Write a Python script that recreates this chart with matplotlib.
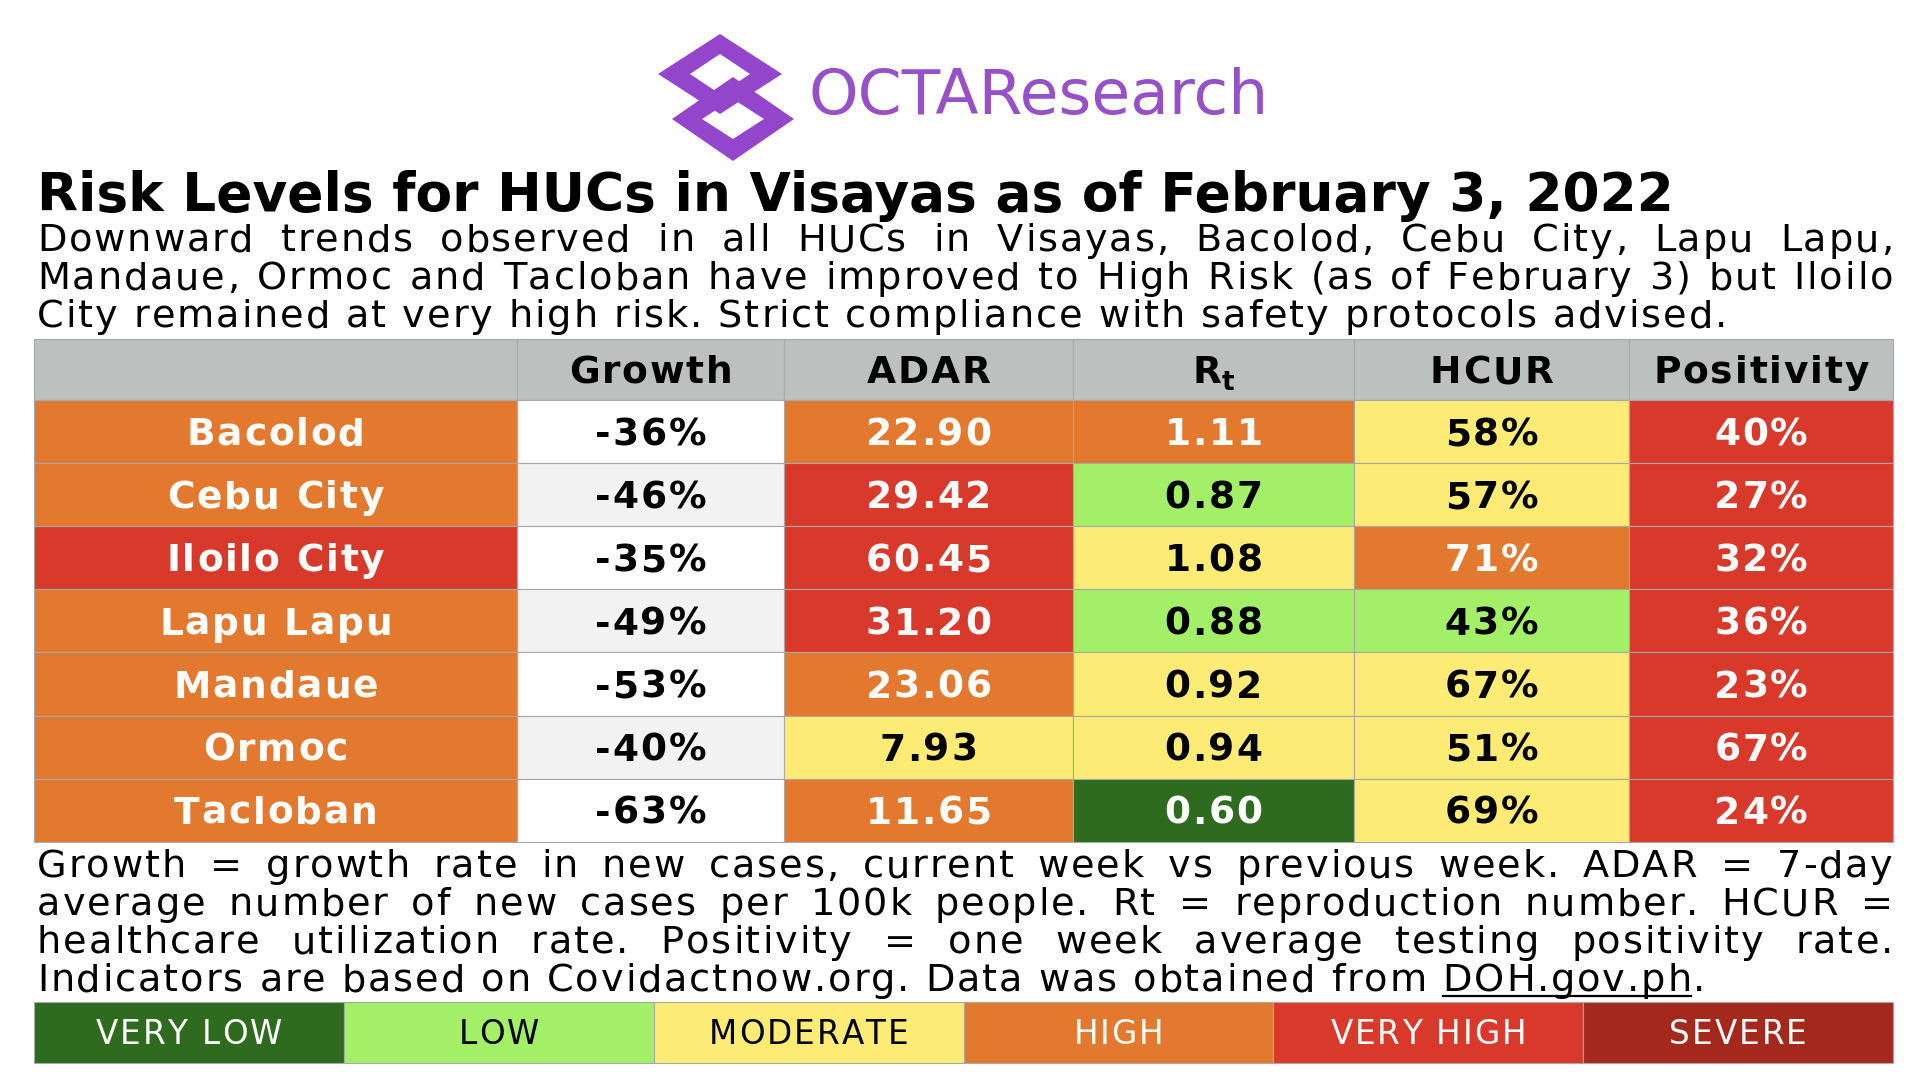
import matplotlib
matplotlib.use("Agg")
import matplotlib.pyplot as plt
from matplotlib.patches import Rectangle, PathPatch
from matplotlib.path import Path
from matplotlib.font_manager import FontProperties, findfont, get_font

# ======================================================
# DATA
# ======================================================

CITIES = ["Bacolod", "Cebu City", "Iloilo City", "Lapu Lapu",
          "Mandaue", "Ormoc", "Tacloban"]
GROWTH = [-36, -46, -35, -49, -53, -40, -63]
ADAR = [22.90, 29.42, 60.45, 31.20, 23.06, 7.93, 11.65]
RT = [1.11, 0.87, 1.08, 0.88, 0.92, 0.94, 0.60]
HCUR = [58, 57, 71, 43, 67, 51, 69]
POSITIVITY = [40, 27, 32, 36, 23, 67, 24]

# risk level index per cell (0 = very low ... 5 = severe)
CITY_RISK = [3, 3, 4, 3, 3, 3, 3]
ADAR_RISK = [3, 4, 4, 4, 3, 2, 3]
RT_RISK = [3, 1, 2, 1, 2, 2, 0]
HCUR_RISK = [2, 2, 3, 1, 2, 2, 2]
POS_RISK = [4, 4, 4, 4, 4, 4, 4]

HEADERS = ["", "Growth", "ADAR", "Rt", "HCUR", "Positivity"]
LEVELS = ["VERY LOW", "LOW", "MODERATE", "HIGH", "VERY HIGH", "SEVERE"]
LEVEL_COLORS = ["#2E6B1F", "#A3F068", "#FCEC76", "#E2792F", "#D9392A", "#A5281C"]
LEVEL_TEXT = ["white", "black", "black", "white", "white", "white"]

TITLE = "Risk Levels for HUCs in Visayas as of February 3, 2022"
SUBTITLE = [
    "Downward trends observed in all HUCs in Visayas, Bacolod, Cebu City, Lapu Lapu,",
    "Mandaue, Ormoc and Tacloban have improved to High Risk (as of February 3) but Iloilo",
    "City remained at very high risk. Strict compliance with safety protocols advised.",
]
NOTES = [
    "Growth = growth rate in new cases, current week vs previous week. ADAR = 7-day",
    "average number of new cases per 100k people. Rt = reproduction number. HCUR =",
    "healthcare utilization rate. Positivity = one week average testing positivity rate.",
    "Indicators are based on Covidactnow.org. Data was obtained from DOH.gov.ph.",
]

# ======================================================
# LAYOUT (pixels)
# ======================================================

COL_EDGES = [34, 517, 784, 1073, 1354, 1629, 1893]
HEAD_TOP, HEAD_BOT = 339, 400
ROW_H = 63.1
TEXT_X0, TEXT_X1 = 37, 1893
PURPLE = "#9345CC"
DPI = 100
CAP = 0.729  # DejaVu Sans cap height / em

plt.rcParams["font.family"] = "DejaVu Sans"

fig = plt.figure(figsize=(19.2, 10.8), dpi=DPI)
ax = fig.add_axes([0, 0, 1, 1])
ax.set_xlim(0, 1920)
ax.set_ylim(1080, 0)
ax.axis("off")
renderer = fig.canvas.get_renderer()

_fonts = {}


def advances(s, fs, weight):
    if weight not in _fonts:
        _fonts[weight] = get_font(findfont(FontProperties(family="DejaVu Sans", weight=weight)))
    f = _fonts[weight]
    f.set_size(fs, DPI)
    return [f.load_char(ord(c)).linearHoriAdvance / 65536 for c in s]


def tracked_width(s, fs, track, weight="normal"):
    return sum(advances(s, fs, weight)) + track * (len(s) - 1)


def tracked(x, y, s, fs, track, weight="normal", color="black", ha="left"):
    """draw s char by char with extra spacing, y is the baseline"""
    adv = advances(s, fs, weight)
    total = sum(adv) + track * (len(s) - 1)
    if ha == "center":
        x = x - total / 2
    for c, a in zip(s, adv):
        if c != " ":
            ax.text(x, y, c, fontsize=fs, fontweight=weight, color=color,
                    ha="left", va="baseline")
        x += a + track
    return total


def body_line(y, line, fs, track, justify):
    words = line.split()
    widths = [tracked_width(w, fs, track) for w in words]
    if justify:
        gap = (TEXT_X1 - TEXT_X0 - sum(widths)) / (len(words) - 1)
    else:
        gap = advances(" ", fs, "normal")[0] + 2 * track
    x = TEXT_X0
    pos = []
    for w, wd in zip(words, widths):
        tracked(x, y, w, fs, track)
        pos.append((x, wd))
        x += wd + gap
    return words, pos


# ======================================================
# LOGO
# ======================================================

def diamond(cx, cy, hw, hh, ihw, ihh):
    outer = [(cx, cy - hh), (cx + hw, cy), (cx, cy + hh), (cx - hw, cy), (cx, cy - hh)]
    inner = [(cx, cy - ihh), (cx - ihw, cy), (cx, cy + ihh), (cx + ihw, cy), (cx, cy - ihh)]
    codes = [Path.MOVETO] + [Path.LINETO] * 3 + [Path.CLOSEPOLY]
    return Path(outer + inner, codes + codes)


ax.add_patch(PathPatch(diamond(720, 74, 62, 40, 30, 20), facecolor=PURPLE, edgecolor="none"))
ax.add_patch(PathPatch(diamond(733, 119, 61, 42, 31, 20), facecolor=PURPLE, edgecolor="none"))

logo = ax.text(808, 97, "OCTAResearch", fontsize=10, color="#9650C8",
               va="center", ha="left")
logo.set_fontsize(10 * 460 / logo.get_window_extent(renderer).width)

# ======================================================
# TITLE + SUBTITLE
# ======================================================

title = ax.text(TEXT_X0, 211, TITLE, fontsize=10, fontweight="bold", va="baseline")
title.set_fontsize(10 * 1640 / title.get_window_extent(renderer).width)

BODY_FS = 27.5
# letter spacing so that the last subtitle line ends where the reference does
last = SUBTITLE[-1]
BODY_TRACK = (1690 - sum(advances(last, BODY_FS, "normal"))) / (len(last) - 1)

for i, line in enumerate(SUBTITLE):
    body_line(251 + 38 * i, line, BODY_FS, BODY_TRACK, justify=(i < len(SUBTITLE) - 1))

# ======================================================
# TABLE
# ======================================================

EDGE = "#A8A8A8"
TABLE_FS = 27
TABLE_TRACK = 1.8
cap_off = CAP * TABLE_FS * DPI / 72 / 2

for j in range(len(HEADERS)):
    x0, x1 = COL_EDGES[j], COL_EDGES[j + 1]
    ax.add_patch(Rectangle((x0, HEAD_TOP), x1 - x0, HEAD_BOT - HEAD_TOP,
                           facecolor="#BEC0C0", edgecolor=EDGE, lw=0.8))
    cx, base = (x0 + x1) / 2, (HEAD_TOP + HEAD_BOT) / 2 + cap_off
    if HEADERS[j] == "Rt":
        big = tracked_width("R", TABLE_FS, 0, "bold")
        small = tracked_width("t", TABLE_FS * 0.7, 0, "bold")
        left = cx - (big + small) / 2
        tracked(left, base, "R", TABLE_FS, 0, weight="bold")
        tracked(left + big, base + 7, "t", TABLE_FS * 0.7, 0, weight="bold")
    elif HEADERS[j]:
        tracked(cx, base, HEADERS[j], TABLE_FS, TABLE_TRACK, weight="bold", ha="center")

columns = [
    (CITIES, CITY_RISK),
    ([f"{g}%" for g in GROWTH], None),
    ([f"{v:.2f}" for v in ADAR], ADAR_RISK),
    ([f"{v:.2f}" for v in RT], RT_RISK),
    ([f"{v}%" for v in HCUR], HCUR_RISK),
    ([f"{v}%" for v in POSITIVITY], POS_RISK),
]

for j, (labels, risk) in enumerate(columns):
    x0, x1 = COL_EDGES[j], COL_EDGES[j + 1]
    for i, lab in enumerate(labels):
        y0 = HEAD_BOT + i * ROW_H
        if risk is None:
            fc = "white" if i % 2 == 0 else "#F2F2F2"
            tc = "black"
        else:
            fc = LEVEL_COLORS[risk[i]]
            tc = LEVEL_TEXT[risk[i]]
        ax.add_patch(Rectangle((x0, y0), x1 - x0, ROW_H,
                               facecolor=fc, edgecolor=EDGE, lw=0.8))
        tracked((x0 + x1) / 2, y0 + ROW_H / 2 + cap_off, lab, TABLE_FS, TABLE_TRACK,
                weight="bold", color=tc, ha="center")

# ======================================================
# NOTES
# ======================================================

for i, line in enumerate(NOTES):
    y = 877 + 38 * i
    words, pos = body_line(y, line, BODY_FS, BODY_TRACK, justify=(i < len(NOTES) - 1))
    for w, (x, wd) in zip(words, pos):
        if w.startswith("DOH"):
            uw = tracked_width(w.rstrip("."), BODY_FS, BODY_TRACK)
            ax.plot([x, x + uw], [y + 5] * 2, color="black", lw=1.6)

# ======================================================
# LEGEND BAR
# ======================================================

LEG_TOP, LEG_BOT = 1002, 1063
LEG_FS = 23.5
seg = (COL_EDGES[-1] - COL_EDGES[0]) / len(LEVELS)
for k, name in enumerate(LEVELS):
    x0 = COL_EDGES[0] + k * seg
    ax.add_patch(Rectangle((x0, LEG_TOP), seg, LEG_BOT - LEG_TOP,
                           facecolor=LEVEL_COLORS[k], edgecolor=EDGE, lw=0.8))
    tracked(x0 + seg / 2, (LEG_TOP + LEG_BOT) / 2 + CAP * LEG_FS * DPI / 72 / 2,
            name, LEG_FS, 2.0, color=LEVEL_TEXT[k], ha="center")

fig.savefig("out.png", dpi=DPI, facecolor="white")
